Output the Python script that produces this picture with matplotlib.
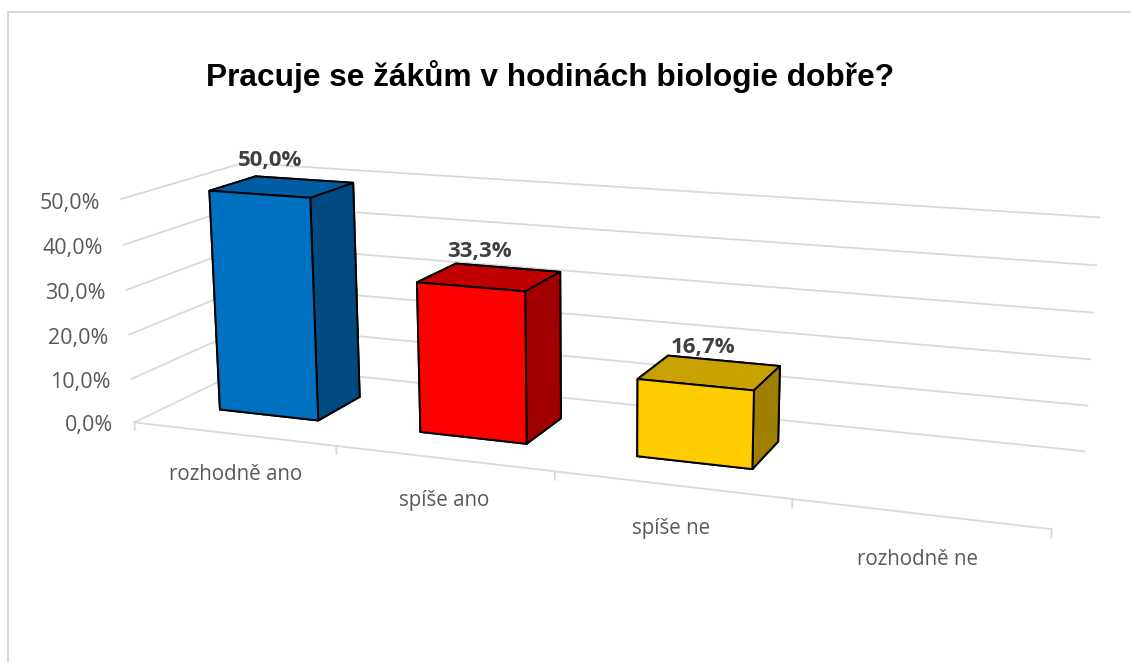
import numpy as np
import matplotlib
matplotlib.use("Agg")
import matplotlib.pyplot as plt
from matplotlib.patches import Rectangle

# data
categories = ["rozhodně ano", "spíše ano", "spíše ne", "rozhodně ne"]
values = [0.500, 0.333, 0.167, 0.0]
y_ticks = [0.0, 0.1, 0.2, 0.3, 0.4, 0.5]
front_colors = ["#0070C0", "#FF0000", "#FFCC00", "#70AD47"]
top_colors = ["#005DA3", "#C00000", "#C9A100", "#5A8C39"]
side_colors = ["#004A82", "#A00000", "#A08000", "#466E2C"]

title = "Pracuje se žákům v hodinách biologie dobře?"

def pct(v):
    return f"{v * 100:.1f}".replace(".", ",") + "%"

fig = plt.figure(figsize=(11.31, 6.62), dpi=100)
fig.patch.set_facecolor("white")

# light frame round the chart area
fig.add_artist(Rectangle((8 / 1131, -0.1), 1.2, 1 - 12 / 662 + 0.1,
                         transform=fig.transFigure, fill=False,
                         edgecolor="#d9d9d9", lw=1.5))

fig.text(0.486, 1 - 77 / 662, title, ha="center", va="center",
         fontsize=22.8, fontweight="bold", family="Liberation Sans", color="black")

# 3d axes, camera fitted to the reference perspective
ax = fig.add_axes([0.08958, -0.23965, 0.85536, 1.46134], projection="3d",
                  proj_type="persp", focal_length=0.3756)
ax.set_box_aspect((4, 1.0251, 1.0038))
ax.view_init(elev=13.93, azim=-69.78)
ax.set_axis_off()
ax.set_xticks([]); ax.set_yticks([]); ax.set_zticks([])
ax.patch.set_alpha(0)
ax.computed_zorder = False

n = len(categories)
depth_front, depth_back = 0.30, 0.694
bar_w = 0.50
grid_c = "#d9d9d9"

# walls: gridlines on left wall and back wall
for t in y_ticks:
    ax.plot([0, 0], [0, 1], [t, t], color=grid_c, lw=1.3, clip_on=False, zorder=1)
    ax.plot([0, n], [1, 1], [t, t], color=grid_c, lw=1.3, clip_on=False, zorder=1)
    ax.text(-0.11, 0, t - 0.013, pct(t), ha="right", va="center", fontsize=15.5,
            family="Open Sans", color="#595959", zorder=5)

# floor front edge (category axis) with tick marks
ax.plot([0, n], [0, 0], [0, 0], color=grid_c, lw=1.3, clip_on=False, zorder=1)
for k in range(n + 1):
    ax.plot([k, k], [0, 0], [0, -0.018], color=grid_c, lw=1.3, clip_on=False, zorder=1)

for k, cat in enumerate(categories):
    ax.text(k + 0.5, 0, -0.093, cat, ha="center", va="center", fontsize=14.8,
            family="Open Sans", color="#595959", zorder=5)

# bars
for k, v in enumerate(values):
    if v <= 0:
        continue
    faces = ["black", top_colors[k], front_colors[k], side_colors[k],
             side_colors[k], side_colors[k]]
    col = ax.bar3d(k + 0.5 - bar_w / 2, depth_front, 0, bar_w,
                   depth_back - depth_front, v, color=faces, shade=False,
                   edgecolor="black", linewidth=1.4, zorder=3 + k)
    col.set_clip_on(False)
    ax.text(k + 0.5, 0.40, v + 0.066, pct(v), ha="center", va="center",
            fontsize=16, fontweight="bold", family="Open Sans",
            color="#404040", zorder=10)

ax.set_xlim(0, n)
ax.set_ylim(0, 1)
ax.set_zlim(0, 0.5)

fig.savefig("out.png", dpi=100)
